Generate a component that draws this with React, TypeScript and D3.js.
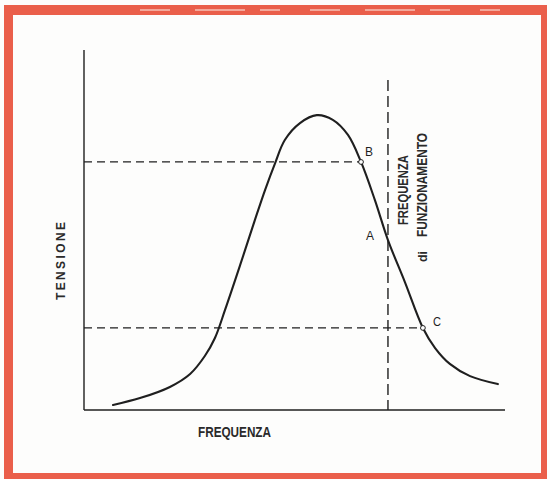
import React from "react";
import * as d3 from "d3";

// Curve: frequency (x, 0-100) vs tension (y, 0-100)
const freq = [6.9, 13.3, 20.4, 25.2, 28.7, 31.1, 33.5, 37.1, 40.6, 43.0, 45.4, 47.7, 51.3, 55.3, 59.1, 62.7, 65.8, 69.1, 72.2, 76.2, 80.5, 83.4, 86.9, 91.7, 98.3];
const tension = [1.4, 3.3, 6.4, 10, 15, 20, 27.8, 40.3, 52.8, 61.1, 68.6, 75, 79.7, 81.9, 80.6, 76.4, 68.9, 58.3, 47.2, 35.6, 22.8, 17.2, 12.8, 9.4, 7.2];

// Marked points
const pointLabels = ["B", "A", "C"];
const pointFreq = [65.8, 72.2, 80.5];
const pointTension = [68.9, 47.2, 22.8];
const operatingFreq = 72.2;
const operatingTop = 91.7;

const W = 550;
const H = 479;
const ink = "#1f1f1f";
const red = "#ea5f4b";
const font = "'Liberation Sans', Arial, sans-serif";

export default function App() {
  const x = d3.scaleLinear().domain([0, 100]).range([84, 505]);
  const y = d3.scaleLinear().domain([0, 100]).range([410, 50]);
  const pts: [number, number][] = freq.map((f, i) => [f, tension[i]]);
  const line = d3
    .line<[number, number]>()
    .x((d) => x(d[0]))
    .y((d) => y(d[1]))
    .curve(d3.curveCatmullRom.alpha(0.5));

  const bIdx = 0;
  const cIdx = 2;
  const labelOffsets: [number, number][] = [
    [4, -6],
    [-22, 0],
    [10, -2],
  ];

  return (
    <svg
      width={W}
      height={H}
      style={{ position: "absolute", left: 0, top: 0, display: "block" }}
    >
      <rect x={0} y={0} width={W} height={H} fill="#fdfdfc" />
      {/* red frame */}
      <rect x={4} y={5} width={543} height={10} fill={red} />
      <rect x={4} y={5} width={9} height={474} fill={red} />
      <rect x={541} y={5} width={6} height={474} fill={red} />
      <rect x={4} y={473} width={543} height={6} fill={red} />
      <line x1={140} x2={500} y1={10} y2={10} stroke="#f6c2b8" strokeWidth={1.5} strokeDasharray="30 25 50 15 20 30" />

      {/* axes */}
      <line x1={x(0)} x2={x(0)} y1={y(100)} y2={y(0)} stroke={ink} strokeWidth={1.4} />
      <line x1={x(0)} x2={x(100)} y1={y(0)} y2={y(0)} stroke={ink} strokeWidth={1.4} />

      {/* dashed guides */}
      <line
        x1={x(0)}
        x2={x(pointFreq[bIdx])}
        y1={y(pointTension[bIdx])}
        y2={y(pointTension[bIdx])}
        stroke={ink}
        strokeWidth={1.2}
        strokeDasharray="8 5"
      />
      <line
        x1={x(0)}
        x2={x(pointFreq[cIdx])}
        y1={y(pointTension[cIdx])}
        y2={y(pointTension[cIdx])}
        stroke={ink}
        strokeWidth={1.2}
        strokeDasharray="8 5"
      />
      <line
        x1={x(operatingFreq)}
        x2={x(operatingFreq)}
        y1={y(operatingTop)}
        y2={y(0)}
        stroke={ink}
        strokeWidth={1.4}
        strokeDasharray="11 5"
      />

      {/* curve */}
      <path d={line(pts) || ""} fill="none" stroke={ink} strokeWidth={2.1} strokeLinecap="round" />

      {/* point markers */}
      {[bIdx, cIdx].map((i) => (
        <circle
          key={i}
          cx={x(pointFreq[i])}
          cy={y(pointTension[i])}
          r={2.4}
          fill="#fff"
          stroke={ink}
          strokeWidth={1}
        />
      ))}
      {pointLabels.map((lab, i) => (
        <text
          key={lab}
          x={x(pointFreq[i]) + labelOffsets[i][0]}
          y={y(pointTension[i]) + labelOffsets[i][1]}
          fontFamily={font}
          fontSize={13}
          fill={ink}
          textLength={8}
          lengthAdjust="spacingAndGlyphs"
        >
          {lab}
        </text>
      ))}

      {/* axis titles */}
      <text
        x={198}
        y={437}
        fontFamily={font}
        fontWeight="bold"
        fontSize={14.5}
        fill="#2a2a2a"
        textLength={73}
        lengthAdjust="spacingAndGlyphs"
      >
        FREQUENZA
      </text>
      <text
        transform="translate(65,300) rotate(-90)"
        fontFamily={font}
        fontWeight="bold"
        fontSize={12}
        fill="#2a2a2a"
        textLength={78}
        lengthAdjust="spacing"
      >
        TENSIONE
      </text>
      <text
        transform="translate(408,225) rotate(-90)"
        fontFamily={font}
        fontWeight="bold"
        fontSize={14}
        fill="#2a2a2a"
        textLength={70}
        lengthAdjust="spacingAndGlyphs"
      >
        FREQUENZA
      </text>
      <text
        transform="translate(427,262) rotate(-90)"
        fontFamily={font}
        fontWeight="bold"
        fontSize={12}
        fill="#2a2a2a"
        textLength={11}
        lengthAdjust="spacingAndGlyphs"
      >
        di
      </text>
      <text
        transform="translate(427,237) rotate(-90)"
        fontFamily={font}
        fontWeight="bold"
        fontSize={14}
        fill="#2a2a2a"
        textLength={104}
        lengthAdjust="spacingAndGlyphs"
      >
        FUNZIONAMENTO
      </text>
    </svg>
  );
}
